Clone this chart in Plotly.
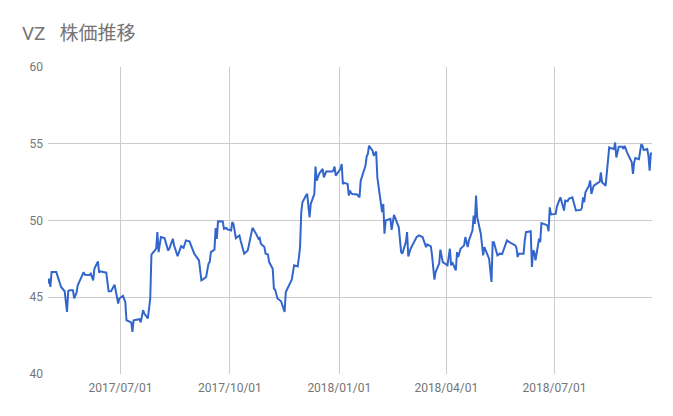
import plotly.graph_objects as go

dates = [
    "2017-05-01","2017-05-02","2017-05-03","2017-05-04","2017-05-08","2017-05-09","2017-05-11","2017-05-12",
    "2017-05-15","2017-05-17","2017-05-18","2017-05-19","2017-05-22","2017-05-23","2017-05-25","2017-05-26",
    "2017-05-31","2017-06-01","2017-06-05","2017-06-06","2017-06-08","2017-06-09","2017-06-12","2017-06-13",
    "2017-06-14","2017-06-16","2017-06-19","2017-06-21","2017-06-23","2017-06-26","2017-06-28","2017-06-29",
    "2017-06-30","2017-07-03","2017-07-05","2017-07-06","2017-07-10","2017-07-11","2017-07-12","2017-07-17",
    "2017-07-18","2017-07-20","2017-07-21","2017-07-24","2017-07-25","2017-07-26","2017-07-27","2017-07-31",
    "2017-08-01","2017-08-02","2017-08-04","2017-08-07","2017-08-10","2017-08-11","2017-08-14","2017-08-15",
    "2017-08-18","2017-08-21","2017-08-23","2017-08-25","2017-08-28","2017-08-30","2017-09-01","2017-09-05",
    "2017-09-06","2017-09-07","2017-09-08","2017-09-11","2017-09-13","2017-09-14","2017-09-15","2017-09-18",
    "2017-09-19","2017-09-20","2017-09-21","2017-09-25","2017-09-26","2017-09-28","2017-09-29","2017-10-02",
    "2017-10-03","2017-10-04","2017-10-06","2017-10-09","2017-10-10","2017-10-13","2017-10-16","2017-10-18",
    "2017-10-20","2017-10-23","2017-10-25","2017-10-26","2017-10-27","2017-10-30","2017-10-31","2017-11-02",
    "2017-11-03","2017-11-06","2017-11-07","2017-11-08","2017-11-10","2017-11-13","2017-11-15","2017-11-16",
    "2017-11-17","2017-11-20","2017-11-22","2017-11-24","2017-11-27","2017-11-28","2017-11-29","2017-11-30",
    "2017-12-01","2017-12-04","2017-12-05","2017-12-07","2017-12-08","2017-12-11","2017-12-12","2017-12-13",
    "2017-12-15","2017-12-18","2017-12-19","2017-12-21","2017-12-26","2017-12-27","2017-12-28","2017-12-29",
    "2018-01-02","2018-01-03","2018-01-04","2018-01-05","2018-01-08","2018-01-09","2018-01-10","2018-01-11",
    "2018-01-12","2018-01-16","2018-01-18","2018-01-19","2018-01-22","2018-01-23","2018-01-24","2018-01-25",
    "2018-01-26","2018-01-29","2018-01-30","2018-02-01","2018-02-02","2018-02-05","2018-02-06","2018-02-07",
    "2018-02-08","2018-02-09","2018-02-12","2018-02-13","2018-02-14","2018-02-16","2018-02-20","2018-02-21",
    "2018-02-22","2018-02-23","2018-02-26","2018-02-27","2018-02-28","2018-03-02","2018-03-05","2018-03-07",
    "2018-03-09","2018-03-12","2018-03-13","2018-03-14","2018-03-15","2018-03-16","2018-03-19","2018-03-20",
    "2018-03-21","2018-03-22","2018-03-23","2018-03-26","2018-03-27","2018-03-28","2018-03-29","2018-04-02",
    "2018-04-03","2018-04-04","2018-04-05","2018-04-06","2018-04-09","2018-04-10","2018-04-11","2018-04-13",
    "2018-04-16","2018-04-17","2018-04-18","2018-04-19","2018-04-20","2018-04-23","2018-04-24","2018-04-25",
    "2018-04-26","2018-04-27","2018-04-30","2018-05-02","2018-05-03","2018-05-04","2018-05-07","2018-05-08",
    "2018-05-09","2018-05-10","2018-05-11","2018-05-14","2018-05-16","2018-05-18","2018-05-22","2018-05-24",
    "2018-05-29","2018-05-30","2018-05-31","2018-06-01","2018-06-05","2018-06-06","2018-06-07","2018-06-11",
    "2018-06-12","2018-06-13","2018-06-14","2018-06-15","2018-06-18","2018-06-19","2018-06-20","2018-06-22",
    "2018-06-25","2018-06-26","2018-06-27","2018-06-28","2018-07-02","2018-07-03","2018-07-05","2018-07-06",
    "2018-07-09","2018-07-10","2018-07-12","2018-07-13","2018-07-16","2018-07-17","2018-07-19","2018-07-23",
    "2018-07-24","2018-07-25","2018-07-26","2018-07-27","2018-07-30","2018-07-31","2018-08-01","2018-08-03",
    "2018-08-06","2018-08-08","2018-08-09","2018-08-10","2018-08-13","2018-08-14","2018-08-15","2018-08-16",
    "2018-08-17","2018-08-20","2018-08-21","2018-08-22","2018-08-23","2018-08-24","2018-08-27","2018-08-28",
    "2018-08-29","2018-08-31","2018-09-04","2018-09-05","2018-09-06","2018-09-07","2018-09-10","2018-09-11",
    "2018-09-12","2018-09-13","2018-09-14","2018-09-17","2018-09-18","2018-09-19","2018-09-20","2018-09-21",
]

prices = [
    45.89,46.21,45.67,46.64,46.64,46.43,46.00,45.67,
    45.39,44.05,45.39,45.45,45.45,44.92,45.30,45.78,
    46.64,46.47,46.45,46.54,46.10,46.86,47.34,46.60,
    46.69,46.66,46.60,45.39,45.39,45.82,44.80,44.59,
    44.92,45.09,44.70,43.50,43.36,42.75,43.50,43.57,
    43.36,44.16,43.94,43.62,44.27,44.92,47.77,48.16,
    49.24,47.94,48.92,48.85,48.05,48.16,48.81,48.38,
    47.68,48.33,48.22,48.70,48.64,48.16,47.84,47.40,
    46.86,46.10,46.15,46.32,47.19,47.29,47.94,48.10,
    49.50,48.80,49.95,49.94,49.46,49.52,49.42,49.35,
    49.89,49.78,48.85,49.03,48.70,47.84,48.05,48.70,
    49.52,49.13,48.81,48.87,48.49,48.27,47.84,47.79,
    47.29,46.86,45.56,45.50,44.92,44.74,44.27,44.05,
    45.34,45.89,46.15,47.08,47.01,47.58,48.27,50.54,
    51.19,51.62,51.73,50.21,51.08,51.73,53.51,52.60,
    53.03,53.36,52.81,53.20,53.20,53.25,53.51,52.92,
    53.36,53.68,52.38,52.45,52.38,51.62,51.95,51.77,
    51.73,51.69,51.51,52.60,53.25,53.57,54.16,54.33,
    54.87,54.55,54.22,54.50,52.81,51.19,50.54,51.08,
    49.14,50.00,50.11,50.11,49.39,50.37,49.57,48.70,
    47.94,47.84,48.59,49.24,47.66,48.16,48.59,48.92,
    49.03,48.92,48.70,48.49,48.27,48.44,48.31,47.73,
    46.97,46.15,46.64,47.19,48.10,47.62,47.29,47.08,
    47.62,48.16,47.08,47.29,46.75,47.94,47.62,48.16,
    48.38,48.92,48.59,48.27,48.70,49.35,50.32,49.78,
    51.62,50.21,49.14,47.73,48.27,48.05,47.51,46.75,
    46.00,48.59,48.59,47.73,47.84,47.82,48.70,48.59,
    48.38,48.22,47.62,47.84,47.84,48.70,49.24,49.30,
    46.97,48.05,47.94,47.40,48.81,48.59,49.83,49.78,
    49.68,49.30,50.86,50.39,50.43,50.91,51.41,51.51,
    50.65,51.30,51.25,51.41,51.51,51.19,50.65,50.69,
    50.82,51.51,51.19,51.84,52.27,52.60,51.73,52.27,
    52.42,52.53,53.14,52.49,52.27,53.03,53.79,54.76,
    54.72,54.66,55.08,54.11,54.44,54.81,54.81,54.66,
    54.87,54.44,53.79,53.03,53.79,54.07,54.00,54.44,
    54.98,54.87,54.59,54.66,54.22,53.25,54.37,54.37,
]

x_tick_vals = ["2017-07-01", "2017-10-01", "2018-01-01", "2018-04-01", "2018-07-01"]
x_tick_text = ["2017/07/01", "2017/10/01", "2018/01/01", "2018/04/01", "2018/07/01"]
y_tick_vals = [40, 45, 50, 55, 60]
title_text = "VZ\u00a0\u00a0\u00a0株価推移"

fig = go.Figure()
fig.add_trace(go.Scatter(
    x=dates, y=prices, mode="lines",
    line=dict(color="#3366CC", width=2),
    showlegend=False,
))

W, H = 665, 408
font_family = "Roboto, 'Noto Sans CJK JP', sans-serif"
fig.update_layout(
    width=W, height=H,
    margin=dict(l=40, r=21, t=59, b=42),
    paper_bgcolor="white", plot_bgcolor="white",
    font=dict(family=font_family, size=12, color="#757575"),
    title=dict(
        text=title_text, x=14/W, xref="container", xanchor="left",
        y=1 - 25/H, yref="container", yanchor="middle",
        font=dict(family=font_family, size=19, color="#757575"),
    ),
)
fig.update_xaxes(
    range=[dates[0], dates[-1]],
    tickvals=x_tick_vals, ticktext=x_tick_text,
    showgrid=True, gridcolor="#cccccc", gridwidth=1,
    showline=False, zeroline=False, ticks="",
    ticklabelstandoff=5,
    tickfont=dict(size=12, color="#757575"),
)
fig.update_yaxes(
    range=[40, 60], tickvals=y_tick_vals,
    showgrid=True, gridcolor="#cccccc", gridwidth=1,
    showline=False, zeroline=False, ticks="",
    ticklabelstandoff=4,
    tickfont=dict(size=12, color="#757575"),
)

fig.write_html("out.html")
